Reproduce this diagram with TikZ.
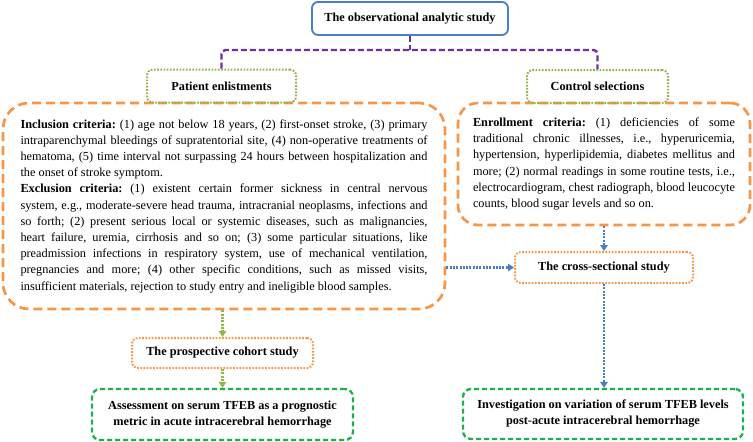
\documentclass[tikz,border=0pt]{standalone}
\usepackage{fontspec}
\setmainfont{Liberation Serif}
\usetikzlibrary{arrows.meta}
\definecolor{cblue}{HTML}{4A7EC7}
\definecolor{cpurple}{HTML}{7030A0}
\definecolor{clgreen}{HTML}{92B54A}
\definecolor{corange}{HTML}{F79646}
\definecolor{cgreen}{HTML}{1DAE4E}
\definecolor{carrblue}{HTML}{4A7FC8}
\begin{document}
\begin{tikzpicture}[x=1pt,y=-1pt,
  font=\fontsize{12.3}{16.2}\selectfont,
  titlebox/.style={draw=cblue, line width=1.8pt, rounded corners=6pt, font=\fontsize{12.3}{14}\selectfont\bfseries, inner sep=0pt},
  gdotbox/.style={draw=clgreen, line width=2pt, dash pattern=on 1.7pt off 1.5pt, rounded corners=6pt, font=\fontsize{12.3}{14}\selectfont\bfseries, inner sep=0pt},
  odotbox/.style={draw=corange, line width=2pt, dash pattern=on 1.7pt off 1.5pt, rounded corners=6pt, font=\fontsize{12.3}{14}\selectfont\bfseries, inner sep=0pt},
  gdashbox/.style={draw=cgreen, line width=2.3pt, dash pattern=on 5pt off 3pt, rounded corners=8pt, font=\fontsize{12.3}{16}\selectfont\bfseries, align=center, inner sep=0pt},
  odashbox/.style={draw=corange, line width=2.7pt, dash pattern=on 9pt off 5pt, rounded corners=26pt, align=justify, inner ysep=0pt},
  purpline/.style={draw=cpurple, line width=2.4pt, dash pattern=on 6pt off 3pt, rounded corners=4pt},
  bluearr/.style={draw=carrblue, line width=2.4pt, dash pattern=on 2pt off 1.3pt, -{Triangle[length=6pt,width=7.5pt]}},
  greenarr/.style={draw=clgreen, line width=2.4pt, dash pattern=on 2pt off 1.3pt, -{Triangle[length=6pt,width=7.5pt]}}
]
\useasboundingbox (0,0) rectangle (753,442);

\node[titlebox, minimum width=196pt, minimum height=33pt] (top) at (410,18.5) {The observational analytic study};

\node[odashbox, minimum height=206pt, text width=407pt, inner xsep=17.5pt] (left) at (224,206) {\frenchspacing\hyphenpenalty=10000\exhyphenpenalty=10000\emergencystretch=2em
\textbf{Inclusion criteria:} (1) age not below 18 years, (2) first-onset stroke, (3) primary\linebreak
intraparenchymal bleedings of supratentorial site, (4) non-operative treatments of\linebreak
hematoma, (5) time interval not surpassing 24 hours between hospitalization and\linebreak
the onset of stroke symptom.\par
\textbf{Exclusion criteria:} (1) existent certain former sickness in central nervous\linebreak
system, e.g., moderate-severe head trauma, intracranial neoplasms, infections and\linebreak
so forth; (2) present serious local or systemic diseases, such as malignancies,\linebreak
heart failure, uremia, cirrhosis and so on; (3) some particular situations, like\linebreak
preadmission infections in respiratory system, use of mechanical ventilation,\linebreak
pregnancies and more; (4) other specific conditions, such as missed visits,\linebreak
insufficient materials, rejection to study entry and ineligible blood samples.};

\node[odashbox, rounded corners=20pt, minimum height=122pt, text width=262pt, inner xsep=15pt] (right) at (604,164) {\frenchspacing\hyphenpenalty=10000\exhyphenpenalty=10000\emergencystretch=2em
\textbf{Enrollment criteria:} (1) deficiencies of some\linebreak
traditional chronic illnesses, i.e., hyperuricemia,\linebreak
hypertension, hyperlipidemia, diabetes mellitus and\linebreak
more; (2) normal readings in some routine tests, i.e.,\linebreak
electrocardiogram, chest radiograph, blood leucocyte\linebreak
counts, blood sugar levels and so on.};

\node[gdotbox, minimum width=149pt, minimum height=33pt] (patient) at (221.5,86) {Patient enlistments};
\node[gdotbox, minimum width=141pt, minimum height=33pt] (control) at (597.5,86.5) {Control selections};

\node[odotbox, minimum width=181pt, minimum height=30pt] (prosp) at (222.5,353) {The prospective cohort study};
\node[odotbox, minimum width=178pt, minimum height=31pt] (cross) at (604,267.5) {The cross-sectional study};

\node[gdashbox, minimum width=261pt, minimum height=51pt] (assess) at (222.5,414.5) {Assessment on serum TFEB as a prognostic\\metric in acute intracerebral hemorrhage};
\node[gdashbox, minimum width=280pt, minimum height=50pt] (invest) at (603,414) {Investigation on variation of serum TFEB levels\\post-acute intracerebral hemorrhage};

\coordinate (pm) at (410,50);
\draw[purpline] (top.south) -- (pm);
\draw[purpline] (patient.north) |- (pm) -| (control.north);

\draw[greenarr] (prosp.north |- left.south) -- (prosp.north);
\draw[greenarr] (prosp.south) -- (assess.north);
\draw[bluearr] (cross.north |- right.south) -- (cross.north);
\draw[bluearr] (cross.west -| left.east) -- (cross.west);
\draw[bluearr] (cross.south) -- (invest.north -| cross.south);
\end{tikzpicture}
\end{document}
